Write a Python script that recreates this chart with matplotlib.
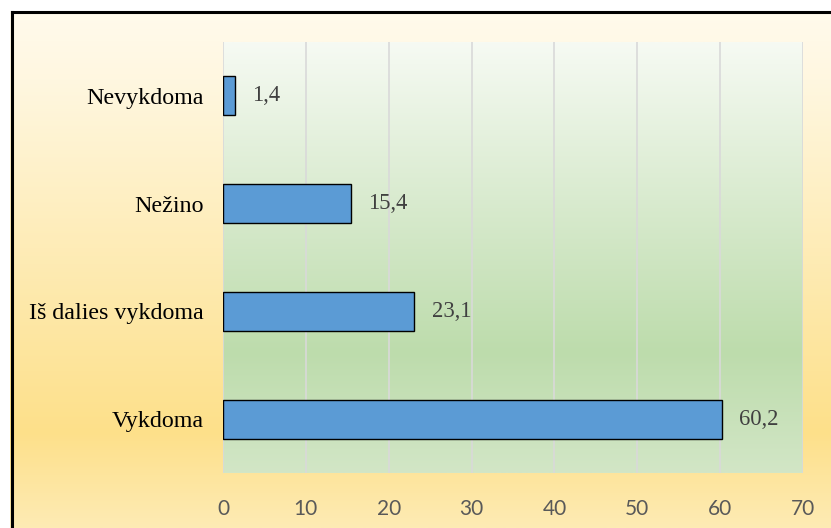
import numpy as np
import matplotlib
matplotlib.use("Agg")
import matplotlib.pyplot as plt
from matplotlib.colors import LinearSegmentedColormap
from matplotlib.patches import Rectangle

# --- Duomenys ---
kategorijos = ["Vykdoma", "Iš dalies vykdoma", "Nežino", "Nevykdoma"]
reiksmes = [60.2, 23.1, 15.4, 1.4]
x_ticks = [0, 10, 20, 30, 40, 50, 60, 70]

W, H, DPI = 831, 528, 100
fig = plt.figure(figsize=(W / DPI, H / DPI), dpi=DPI)

# fonas: vertikalus gradientas (kreminis -> geltonas -> sviesesnis)
bg = fig.add_axes([0, 0, 1, 1], zorder=0)
bg_cmap = LinearSegmentedColormap.from_list(
    "fonas", [(0.0, "#fffbee"), (0.15, "#fff7e0"), (0.82, "#fde08a"), (1.0, "#feebb4")])
grad = np.linspace(0, 1, 256).reshape(-1, 1)
bg.imshow(grad, cmap=bg_cmap, aspect="auto", extent=[0, 1, 0, 1], origin="upper")
bg.set_xlim(0, 1)
bg.set_ylim(0, 1)
bg.axis("off")
# balta juosta virsuje ir kaireje, juodas remelis
bg.add_patch(Rectangle((0, 1 - 11 / H), 1, 11 / H, facecolor="white", edgecolor="none", zorder=3))
bg.add_patch(Rectangle((0, 0), 10 / W, 1, facecolor="white", edgecolor="none", zorder=3))
bg.plot([11.5 / W, 11.5 / W], [0, 1 - 11.5 / H], color="black", lw=2.2, zorder=4,
        solid_capstyle="projecting")
bg.plot([11.5 / W, 1], [1 - 11.5 / H, 1 - 11.5 / H], color="black", lw=2.2, zorder=4,
        solid_capstyle="projecting")

ax = fig.add_axes([223 / W, 1 - 473 / H, 580 / W, 431 / H], zorder=1)
ax.set_facecolor("none")

y = np.arange(len(kategorijos))
ax.set_xlim(0, 70)
ax.set_ylim(-0.5, len(kategorijos) - 0.5)

# braizymo srities gradientas
plot_cmap = LinearSegmentedColormap.from_list(
    "sritis", [(0.0, "#f6faf3"), (0.72, "#bddcac"), (1.0, "#d2e6c6")])
ax.imshow(grad, cmap=plot_cmap, aspect="auto", extent=[0, 70, -0.5, 3.5],
          origin="upper", zorder=0)

for xt in x_ticks:
    ax.axvline(xt, color="#d9d9d9", lw=1.2, zorder=1)

ax.barh(y, reiksmes, height=0.36, color="#5b9bd5", edgecolor="black", lw=1.0, zorder=2)

for yi, v in zip(y, reiksmes):
    ax.annotate(f"{v:.1f}".replace(".", ","), xy=(v, yi), xytext=(12.5, 0),
                textcoords="offset points", ha="left", va="center",
                fontsize=16.3, color="#404040", family="Liberation Serif")

ax.set_yticks(y)
ax.set_yticklabels(kategorijos, family="Liberation Serif", fontsize=17.3, color="black")
ax.set_xticks(x_ticks)
ax.set_xticklabels([str(t) for t in x_ticks], family="Lato", fontsize=15, color="#595959")
ax.tick_params(axis="y", length=0, pad=14)
ax.tick_params(axis="x", length=0, pad=19)
for s in ax.spines.values():
    s.set_visible(False)

fig.savefig("out.png", dpi=DPI)
